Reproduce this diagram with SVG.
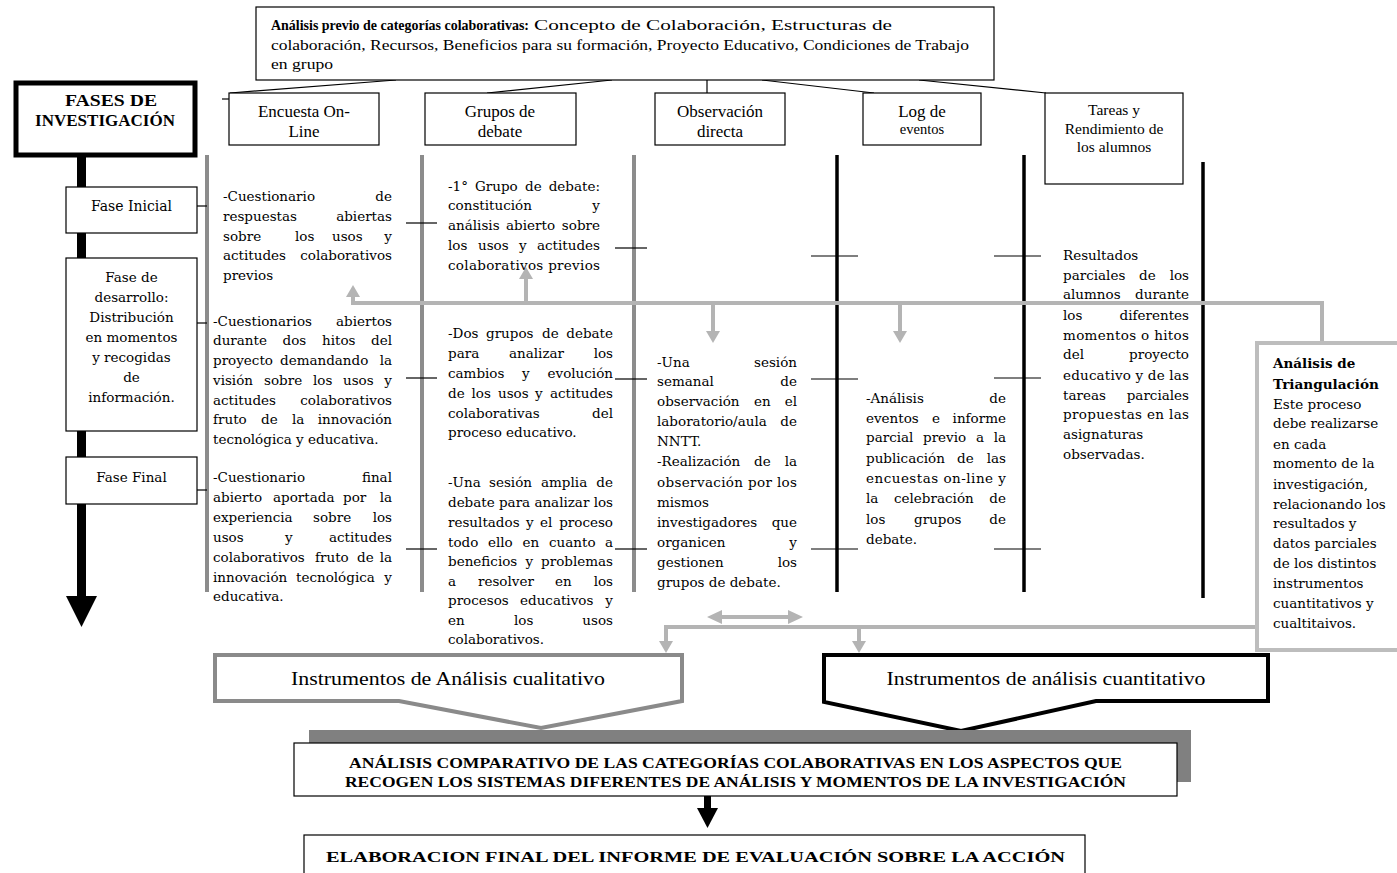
<svg xmlns="http://www.w3.org/2000/svg" width="1397" height="873" viewBox="0 0 1397 873">
<style>
.t{font-family:"DejaVu Serif","Liberation Serif",serif;font-size:13.5px;fill:#000}
.h{font-family:"Liberation Serif","Times New Roman",serif;font-size:17px;fill:#000}
.b{font-weight:bold}
.m{text-anchor:middle}
.e{text-anchor:end}
.box{fill:#fff;stroke:#000;stroke-width:1.2}
.gv{stroke:#8c8c8c;stroke-width:4}
.bv{stroke:#000;stroke-width:3.5}
.tk{stroke:#000;stroke-width:1.2;fill:none}
.gc{stroke:#b4b4b4;stroke-width:4;fill:none}
.ga{fill:#b4b4b4}
</style>
<rect width="1397" height="873" fill="#fff"/>

<g id="columns">
<line class="gv" x1="207" y1="155" x2="207" y2="592"/>
<line class="gv" x1="422" y1="155" x2="422" y2="592"/>
<line class="gv" x1="634" y1="155" x2="634" y2="592"/>
<line class="bv" x1="837" y1="155" x2="837" y2="592"/>
<line class="bv" x1="1024" y1="155" x2="1024" y2="592"/>
<line class="bv" x1="1203" y1="162" x2="1203" y2="598"/>
</g>

<g id="connectors">
<line class="tk" x1="396" y1="80" x2="230" y2="93"/>
<line class="tk" x1="222" y1="99" x2="229" y2="99"/>
<line class="tk" x1="612" y1="80" x2="487" y2="93"/>
<line class="tk" x1="707" y1="80" x2="707" y2="93"/>
<line class="tk" x1="762" y1="80" x2="874" y2="93"/>
<line class="tk" x1="919" y1="80" x2="1046" y2="93"/>
<line class="tk" x1="197" y1="206" x2="207" y2="206"/>
<line class="tk" x1="197" y1="323" x2="207" y2="323"/>
<line class="tk" x1="197" y1="490" x2="207" y2="490"/>
<line class="tk" x1="406" y1="223" x2="437" y2="223"/>
<line class="tk" x1="406" y1="378" x2="437" y2="378"/>
<line class="tk" x1="406" y1="549" x2="437" y2="549"/>
<line class="tk" x1="615" y1="248" x2="647" y2="248"/>
<line class="tk" x1="615" y1="379" x2="647" y2="379"/>
<line class="tk" x1="615" y1="549" x2="647" y2="549"/>
<line class="tk" x1="811" y1="256" x2="858" y2="256"/>
<line class="tk" x1="811" y1="379" x2="858" y2="379"/>
<line class="tk" x1="811" y1="549" x2="858" y2="549"/>
<line class="tk" x1="994" y1="256" x2="1041" y2="256"/>
<line class="tk" x1="994" y1="378" x2="1041" y2="378"/>
<line class="tk" x1="994" y1="549" x2="1041" y2="549"/>
<path class="gc" d="M353,297 V303 H1322 V345"/>
<polygon class="ga" points="346,297 360,297 353,285"/>
<line class="gc" x1="526" y1="303" x2="526" y2="279"/>
<polygon class="ga" points="519,279 533,279 526,267"/>
<line class="gc" x1="713" y1="303" x2="713" y2="331"/>
<polygon class="ga" points="706,331 720,331 713,343"/>
<line class="gc" x1="900" y1="303" x2="900" y2="331"/>
<polygon class="ga" points="893,331 907,331 900,343"/>
<path class="gc" d="M666,641 V627 H1257"/>
<polygon class="ga" points="659,641 673,641 666,653"/>
<line class="gc" x1="859" y1="627" x2="859" y2="641"/>
<polygon class="ga" points="852,641 866,641 859,653"/>
<line class="gc" x1="720" y1="617" x2="790" y2="617" stroke-width="5"/>
<polygon class="ga" points="707,617 722,610 722,624"/>
<polygon class="ga" points="803,617 788,610 788,624"/>
<rect x="77" y="157" width="9" height="440" fill="#000"/>
<polygon points="66,596 97,596 81.5,627" fill="#000"/>
<rect x="704" y="796" width="7" height="13" fill="#000"/>
<polygon points="697,808 718,808 707.5,828" fill="#000"/>
</g>

<g id="categorias">
<rect x="256" y="7" width="738" height="73" class="box"/>
<text class="h b" style="font-size:15px" x="271" y="30" textLength="258" lengthAdjust="spacingAndGlyphs">Análisis previo de categorías colaborativas:</text>
<text class="h" style="font-size:15.5px" x="534" y="30" textLength="358" lengthAdjust="spacingAndGlyphs">Concepto de Colaboración, Estructuras de</text>
<text class="h" style="font-size:15.5px" x="271" y="50" textLength="698" lengthAdjust="spacingAndGlyphs">colaboración, Recursos, Beneficios para su formación, Proyecto Educativo, Condiciones de Trabajo</text>
<text class="h" style="font-size:15.5px" x="271" y="69" textLength="62" lengthAdjust="spacingAndGlyphs">en grupo</text>
</g>

<g id="fases">
<rect x="16" y="83" width="179" height="72" fill="#fff" stroke="#000" stroke-width="5"/>
<text class="h b m" x="111" y="106" textLength="92" lengthAdjust="spacingAndGlyphs">FASES DE</text>
<text class="h b m" x="105" y="126">INVESTIGACIÓN</text>
</g>

<g id="encuesta">
<rect x="229" y="93" width="150" height="52" class="box"/>
<text class="h m" x="304" y="117">Encuesta On-</text>
<text class="h m" x="304" y="137">Line</text>
</g>
<g id="grupos">
<rect x="425" y="93" width="151" height="52" class="box"/>
<text class="h m" x="500" y="117">Grupos de</text>
<text class="h m" x="500" y="137">debate</text>
</g>
<g id="observacion">
<rect x="655" y="93" width="130" height="52" class="box"/>
<text class="h m" x="720" y="117">Observación</text>
<text class="h m" x="720" y="137">directa</text>
</g>
<g id="log">
<rect x="863" y="93" width="118" height="52" class="box"/>
<text class="h m" x="922" y="117">Log de</text>
<text class="h m" x="922" y="134" style="font-size:14.5px">eventos</text>
</g>
<g id="tareas">
<rect x="1045" y="93" width="138" height="91" class="box"/>
<text class="h m" style="font-size:15.5px" x="1114" y="115">Tareas y</text>
<text class="h m" style="font-size:15.5px" x="1114" y="134">Rendimiento de</text>
<text class="h m" style="font-size:15.5px" x="1114" y="152">los alumnos</text>
</g>

<g id="fase-inicial">
<rect x="66" y="187" width="131" height="46" class="box"/>
<text class="t m" x="131.5" y="211" style="font-size:14px">Fase Inicial</text>
</g>
<g id="fase-desarrollo">
<rect x="66" y="258" width="131" height="173" class="box"/>
<text class="t m" x="131.5" y="282">Fase de</text>
<text class="t m" x="131.5" y="302">desarrollo:</text>
<text class="t m" x="131.5" y="322">Distribución</text>
<text class="t m" x="131.5" y="342">en momentos</text>
<text class="t m" x="131.5" y="362">y recogidas</text>
<text class="t m" x="131.5" y="382">de</text>
<text class="t m" x="131.5" y="402">información.</text>
</g>
<g id="fase-final">
<rect x="66" y="457" width="131" height="47" class="box"/>
<text class="t m" x="131.5" y="482">Fase Final</text>
</g>

<g id="encuesta-textos">
<text class="t" y="201"><tspan x="223">-Cuestionario</tspan><tspan x="392" class="e">de</tspan></text>
<text class="t" y="221"><tspan x="223">respuestas</tspan><tspan x="392" class="e">abiertas</tspan></text>
<text class="t" y="241"><tspan x="223">sobre</tspan><tspan x="295">los</tspan><tspan x="332">usos</tspan><tspan x="392" class="e">y</tspan></text>
<text class="t" y="260"><tspan x="223">actitudes</tspan><tspan x="392" class="e">colaborativos</tspan></text>
<text class="t" x="223" y="280">previos</text>
<text class="t" y="326"><tspan x="213">-Cuestionarios</tspan><tspan x="392" class="e">abiertos</tspan></text>
<text class="t" y="345"><tspan x="213">durante</tspan><tspan x="282.5">dos</tspan><tspan x="322">hitos</tspan><tspan x="392" class="e">del</tspan></text>
<text class="t" y="365"><tspan x="213">proyecto</tspan><tspan x="280">demandando</tspan><tspan x="392" class="e">la</tspan></text>
<text class="t" y="385"><tspan x="213">visión</tspan><tspan x="264">sobre</tspan><tspan x="313">los</tspan><tspan x="343">usos</tspan><tspan x="392" class="e">y</tspan></text>
<text class="t" y="405"><tspan x="213">actitudes</tspan><tspan x="392" class="e">colaborativos</tspan></text>
<text class="t" y="424"><tspan x="213">fruto</tspan><tspan x="261">de</tspan><tspan x="292">la</tspan><tspan x="392" class="e">innovación</tspan></text>
<text class="t" x="213" y="444">tecnológica y educativa.</text>
<text class="t" y="482"><tspan x="213">-Cuestionario</tspan><tspan x="392" class="e">final</tspan></text>
<text class="t" y="502"><tspan x="213">abierto</tspan><tspan x="273">aportada</tspan><tspan x="343">por</tspan><tspan x="392" class="e">la</tspan></text>
<text class="t" y="522"><tspan x="213">experiencia</tspan><tspan x="313">sobre</tspan><tspan x="392" class="e">los</tspan></text>
<text class="t" y="542"><tspan x="213">usos</tspan><tspan x="285">y</tspan><tspan x="392" class="e">actitudes</tspan></text>
<text class="t" y="562"><tspan x="213">colaborativos</tspan><tspan x="315">fruto</tspan><tspan x="357">de</tspan><tspan x="392" class="e">la</tspan></text>
<text class="t" y="582"><tspan x="213">innovación</tspan><tspan x="296">tecnológica</tspan><tspan x="392" class="e">y</tspan></text>
<text class="t" x="213" y="601">educativa.</text>
</g>

<g id="grupos-textos">
<text class="t" y="191"><tspan x="448">-1°</tspan><tspan x="475">Grupo</tspan><tspan x="525">de</tspan><tspan x="600" class="e">debate:</tspan></text>
<text class="t" y="210"><tspan x="448">constitución</tspan><tspan x="600" class="e">y</tspan></text>
<text class="t" y="230"><tspan x="448">análisis</tspan><tspan x="506">abierto</tspan><tspan x="600" class="e">sobre</tspan></text>
<text class="t" y="250"><tspan x="448">los</tspan><tspan x="478">usos</tspan><tspan x="519">y</tspan><tspan x="600" class="e">actitudes</tspan></text>
<text class="t" x="448" y="270" textLength="152" lengthAdjust="spacing">colaborativos previos</text>
<text class="t" y="338"><tspan x="448">-Dos</tspan><tspan x="486">grupos</tspan><tspan x="542">de</tspan><tspan x="613" class="e">debate</tspan></text>
<text class="t" y="358"><tspan x="448">para</tspan><tspan x="509">analizar</tspan><tspan x="613" class="e">los</tspan></text>
<text class="t" y="378"><tspan x="448">cambios</tspan><tspan x="522">y</tspan><tspan x="613" class="e">evolución</tspan></text>
<text class="t" y="398"><tspan x="448">de</tspan><tspan x="471.5">los</tspan><tspan x="498">usos</tspan><tspan x="535">y</tspan><tspan x="613" class="e">actitudes</tspan></text>
<text class="t" y="418"><tspan x="448">colaborativas</tspan><tspan x="613" class="e">del</tspan></text>
<text class="t" x="448" y="437">proceso educativo.</text>
<text class="t" y="487"><tspan x="448">-Una</tspan><tspan x="489">sesión</tspan><tspan x="541">amplia</tspan><tspan x="613" class="e">de</tspan></text>
<text class="t" x="448" y="507" textLength="165" lengthAdjust="spacing">debate para analizar los</text>
<text class="t" y="527"><tspan x="448">resultados</tspan><tspan x="526">y</tspan><tspan x="540">el</tspan><tspan x="613" class="e">proceso</tspan></text>
<text class="t" y="547"><tspan x="448">todo</tspan><tspan x="488">ello</tspan><tspan x="522.5">en</tspan><tspan x="549">cuanto</tspan><tspan x="613" class="e">a</tspan></text>
<text class="t" y="566"><tspan x="448">beneficios</tspan><tspan x="525.5">y</tspan><tspan x="613" class="e">problemas</tspan></text>
<text class="t" y="586"><tspan x="448">a</tspan><tspan x="478">resolver</tspan><tspan x="555">en</tspan><tspan x="613" class="e">los</tspan></text>
<text class="t" y="605"><tspan x="448">procesos</tspan><tspan x="520">educativos</tspan><tspan x="613" class="e">y</tspan></text>
<text class="t" y="625"><tspan x="448">en</tspan><tspan x="514">los</tspan><tspan x="613" class="e">usos</tspan></text>
<text class="t" x="448" y="644">colaborativos.</text>
</g>

<g id="observacion-textos">
<text class="t" y="367"><tspan x="657">-Una</tspan><tspan x="797" class="e">sesión</tspan></text>
<text class="t" y="386"><tspan x="657">semanal</tspan><tspan x="797" class="e">de</tspan></text>
<text class="t" y="406"><tspan x="657">observación</tspan><tspan x="754">en</tspan><tspan x="797" class="e">el</tspan></text>
<text class="t" y="426"><tspan x="657">laboratorio/aula</tspan><tspan x="797" class="e">de</tspan></text>
<text class="t" x="657" y="446">NNTT.</text>
<text class="t" y="466"><tspan x="657">-Realización</tspan><tspan x="754">de</tspan><tspan x="797" class="e">la</tspan></text>
<text class="t" x="657" y="487" textLength="140" lengthAdjust="spacing">observación por los</text>
<text class="t" x="657" y="507">mismos</text>
<text class="t" y="527"><tspan x="657">investigadores</tspan><tspan x="797" class="e">que</tspan></text>
<text class="t" y="547"><tspan x="657">organicen</tspan><tspan x="797" class="e">y</tspan></text>
<text class="t" y="567"><tspan x="657">gestionen</tspan><tspan x="797" class="e">los</tspan></text>
<text class="t" x="657" y="587">grupos de debate.</text>
</g>

<g id="log-textos">
<text class="t" y="403"><tspan x="866">-Análisis</tspan><tspan x="1006" class="e">de</tspan></text>
<text class="t" y="423"><tspan x="866">eventos</tspan><tspan x="932">e</tspan><tspan x="1006" class="e">informe</tspan></text>
<text class="t" y="442"><tspan x="866">parcial</tspan><tspan x="923">previo</tspan><tspan x="976">a</tspan><tspan x="1006" class="e">la</tspan></text>
<text class="t" y="463"><tspan x="866">publicación</tspan><tspan x="957">de</tspan><tspan x="1006" class="e">las</tspan></text>
<text class="t" x="866" y="483" textLength="140" lengthAdjust="spacing">encuestas on-line y</text>
<text class="t" y="503"><tspan x="866">la</tspan><tspan x="894">celebración</tspan><tspan x="1006" class="e">de</tspan></text>
<text class="t" y="524"><tspan x="866">los</tspan><tspan x="914">grupos</tspan><tspan x="1006" class="e">de</tspan></text>
<text class="t" x="866" y="544">debate.</text>
</g>

<g id="tareas-textos">
<text class="t" x="1063" y="260">Resultados</text>
<text class="t" y="280"><tspan x="1063">parciales</tspan><tspan x="1139">de</tspan><tspan x="1189" class="e">los</tspan></text>
<text class="t" y="299"><tspan x="1063">alumnos</tspan><tspan x="1189" class="e">durante</tspan></text>
<text class="t" y="320"><tspan x="1063">los</tspan><tspan x="1189" class="e">diferentes</tspan></text>
<text class="t" x="1063" y="340" textLength="126" lengthAdjust="spacing">momentos o hitos</text>
<text class="t" y="359"><tspan x="1063">del</tspan><tspan x="1189" class="e">proyecto</tspan></text>
<text class="t" x="1063" y="380" textLength="126" lengthAdjust="spacing">educativo y de las</text>
<text class="t" y="400"><tspan x="1063">tareas</tspan><tspan x="1189" class="e">parciales</tspan></text>
<text class="t" x="1063" y="419" textLength="126" lengthAdjust="spacing">propuestas en las</text>
<text class="t" x="1063" y="439">asignaturas</text>
<text class="t" x="1063" y="459">observadas.</text>
</g>

<g id="triangulacion">
<rect x="1257" y="343" width="150" height="307" fill="#fff" stroke="#bdbdbd" stroke-width="4"/>
<text class="t b" x="1273" y="368">Análisis de</text>
<text class="t b" x="1273" y="389" textLength="106" lengthAdjust="spacingAndGlyphs">Triangulación</text>
<text class="t" x="1273" y="409">Este proceso</text>
<text class="t" x="1273" y="428">debe realizarse</text>
<text class="t" x="1273" y="449">en cada</text>
<text class="t" x="1273" y="468">momento de la</text>
<text class="t" x="1273" y="489">investigación,</text>
<text class="t" x="1273" y="509">relacionando los</text>
<text class="t" x="1273" y="528">resultados y</text>
<text class="t" x="1273" y="548">datos parciales</text>
<text class="t" x="1273" y="568">de los distintos</text>
<text class="t" x="1273" y="588">instrumentos</text>
<text class="t" x="1273" y="608">cuantitativos y</text>
<text class="t" x="1273" y="628">cualtitaivos.</text>
</g>

<g id="cualitativo">
<path d="M215,655 H682 V701 L541,728 L399,701 H215 Z" fill="#fff" stroke="#8a8a8a" stroke-width="4"/>
<text class="h m" style="font-size:19px" x="448" y="685" textLength="314" lengthAdjust="spacingAndGlyphs">Instrumentos de Análisis cualitativo</text>
</g>
<g id="cuantitativo">
<path d="M824,655 H1268 V701 H1096 L961,731 L824,702 Z" fill="#fff" stroke="#000" stroke-width="4"/>
<text class="h m" style="font-size:19px" x="1046" y="685" textLength="319" lengthAdjust="spacingAndGlyphs">Instrumentos de análisis cuantitativo</text>
</g>

<g id="comparativo">
<rect x="309" y="730" width="882" height="52" fill="#808080"/>
<rect x="294" y="743" width="883" height="53" class="box"/>
<text class="h b m" style="font-size:14.5px" x="735.5" y="768" textLength="773" lengthAdjust="spacingAndGlyphs">ANÁLISIS COMPARATIVO DE LAS CATEGORÍAS COLABORATIVAS EN LOS ASPECTOS QUE</text>
<text class="h b m" style="font-size:14.5px" x="735.5" y="787" textLength="781" lengthAdjust="spacingAndGlyphs">RECOGEN LOS SISTEMAS DIFERENTES DE ANÁLISIS Y MOMENTOS DE LA INVESTIGACIÓN</text>
</g>

<g id="elaboracion">
<rect x="304" y="835" width="781" height="50" class="box"/>
<text class="h b m" style="font-size:15px" x="695.5" y="862" textLength="739" lengthAdjust="spacingAndGlyphs">ELABORACION FINAL DEL INFORME DE EVALUACIÓN SOBRE LA ACCIÓN</text>
</g>
</svg>
